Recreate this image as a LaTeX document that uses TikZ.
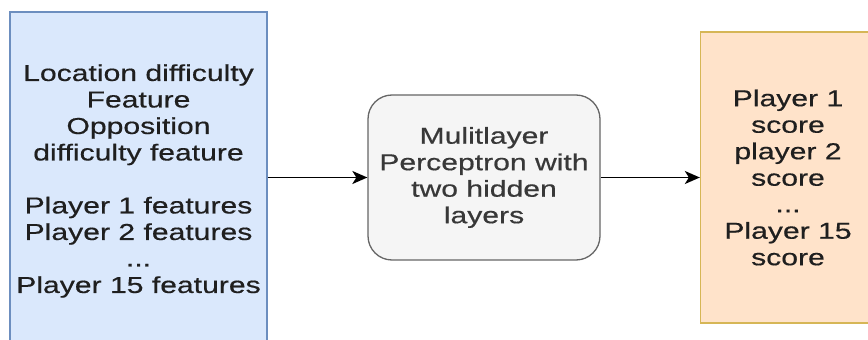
\documentclass[tikz,border=0pt]{standalone}
\usepackage{fontspec}
\setmainfont{Liberation Sans}
\newfontfamily\widesans[FakeStretch=1.31,FakeBold=0.5]{Liberation Sans}
\usetikzlibrary{arrows.meta}

\definecolor{inblue}{HTML}{DAE8FC}
\definecolor{inblueline}{HTML}{6C8EBF}
\definecolor{mlpgray}{HTML}{F5F5F5}
\definecolor{mlpline}{HTML}{666666}
\definecolor{outorange}{HTML}{FFE3CA}
\definecolor{outline}{HTML}{D6B656}

\tikzset{
  box/.style={draw, line width=1.3pt, align=center, inner sep=0pt,
    font=\widesans\fontsize{23}{26.5}\selectfont, text=black!88},
  link/.style={line width=1.8pt, -{Stealth[length=15pt,width=13pt,inset=4pt]}}
}

\begin{document}
\begin{tikzpicture}[x=1pt,y=1pt]

\useasboundingbox (0,0) rectangle (868,340);
\clip (0,0) rectangle (868,340);

\coordinate (A) at (138.5,159);
\coordinate (B) at (484,162.5);
\coordinate (C) at (788,162.5);

\node[box, fill=inblue, draw=inblueline, minimum width=257pt, minimum height=338pt] (features) at (A)
  {Location difficulty\\Feature\\Opposition\\difficulty feature\\[26.5pt]Player 1 features\\Player 2 features\\...\\Player 15 features};
\node[box, fill=mlpgray, draw=mlpline, rounded corners=24pt, text=black!78, minimum width=232pt, minimum height=165pt] (mlp) at (B)
  {Mulitlayer\\Perceptron with\\two hidden\\layers};
\node[box, fill=outorange, draw=outline, minimum width=175pt, minimum height=291pt] (scores) at (C)
  {Player 1\\score\\player 2\\score\\...\\Player 15\\score};

\draw[link] (features.east |- mlp.west) -- (mlp.west);
\draw[link] (mlp.east) -- (scores.west);

\end{tikzpicture}
\end{document}
